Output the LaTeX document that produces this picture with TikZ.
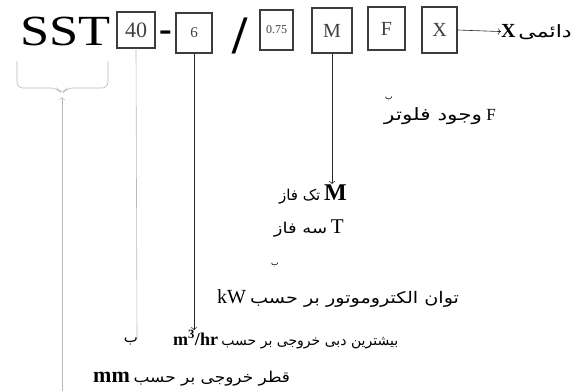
\documentclass[tikz,border=0pt]{standalone}
\usepackage{fontspec}
\usepackage{graphicx}
\setmainfont{Liberation Serif}
\newfontfamily\persianfont[Script=Arabic]{DejaVu Sans}
\TeXXeTstate=1
\usetikzlibrary{positioning, arrows.meta}
\definecolor{boxgray}{RGB}{60,60,60}
\definecolor{faintgray}{RGB}{185,185,185}
\newcommand{\fatext}[2][1]{\scalebox{#1}[1]{\persianfont\beginR #2\endR}}
\newcommand{\fsz}[1]{\fontsize{#1}{#1}\selectfont}

\begin{document}
\begin{tikzpicture}[x=1pt, y=-1pt,
  every node/.style={inner sep=0pt},
  slot/.style={draw=boxgray, line width=1.2pt, text=black!75},
  ann/.style={font=\fsz{15}},
  arrow/.style={->, black!85, semithick},
  faint/.style={faintgray, semithick}]
\useasboundingbox (0,0) rectangle (581,391);

% model code
\node[anchor=base west, font=\fsz{43}] (sst) at (20,45) {\scalebox{1.22}[1]{SST}};
\node[slot, minimum width=38pt, minimum height=36pt, font=\fsz{22}] (d40) at (136,30) {40};
\node[anchor=base, font=\fsz{38}\bfseries] (hyph) at (166,41) {-};
\node[slot, minimum width=36pt, minimum height=40pt, font=\fsz{15}] (d6) at (194,33) {6};
\node[anchor=base, font=\fsz{54}\bfseries] (slash) at (240,53) {/};
\node[slot, minimum width=33pt, minimum height=40pt, font=\fsz{12}] (d075) at (276.5,30) {0.75};
\node[slot, minimum width=40pt, minimum height=45pt, font=\fsz{20}] (dM) at (332,30.5) {M};
\node[slot, minimum width=37pt, minimum height=43pt, font=\fsz{20}] (dF) at (386.5,28.5) {F};
\node[slot, minimum width=35pt, minimum height=46pt, font=\fsz{20}] (dX) at (439.5,30) {X};

% meanings
\node[ann, anchor=base west, font=\fsz{17}] (lblX) at (501,37) {{\fsz{20}\bfseries X}\,\fatext[1.3]{دائمی}};
\draw[arrow] (dX.east) -- (lblX.west);
\node[ann, anchor=base east, font=\fsz{17}] (lblF) at (496,120) {\fatext[1.27]{وجود فلوتر}\ {\fsz{17}F}};
\node[ann, font=\fsz{8}] (dotF) at (389,99) {\fatext{ب}};
\node[ann, anchor=base east] (lblM) at (347,200) {\fatext{تک فاز}\ {\fsz{24}\bfseries M}};
\draw[arrow] (dM.south) -- (dM.south |- lblM.north);
\node[ann, anchor=base east] (lblT) at (344,233) {\fatext[1.2]{سه فاز}\ {\fsz{21}T}};
\node[ann, font=\fsz{8}] (dotkW) at (275,265) {\fatext{ب}};
\node[ann, anchor=base west, font=\fsz{16}] (lblkW) at (217,303) {{\fsz{20}kW}\ \fatext[1.2]{توان الکتروموتور بر حسب}};
\node[ann, anchor=base west, font=\fsz{14}] (lblQ) at (173,345) {{\fsz{18}\bfseries m\textsuperscript{3}/hr}\ \fatext{بیشترین دبی خروجی بر حسب}};
\draw[arrow] (d6.south) -- (d6.south |- lblQ.north);
\node[ann] (strayQ) at (131,341) {\fatext{ب}};
\node[ann, anchor=base west] (lblD) at (93,382) {{\fsz{22}\bfseries mm}\ \fatext[1.13]{قطر خروجی بر حسب}};

% brand brace
\draw[faint, rounded corners=6pt] (17,61) -- (17,88) -- (57,88) -- (62,94) -- (67,88) -- (108,88) -- (108,61);
\coordinate (brtip) at (62,97);
\coordinate (brfoot) at (62,391);
\draw[faint, ->] (brfoot) -- (brtip);
\coordinate (d40foot) at (137,338);
\draw[faint] (d40.south) -- (d40foot);
\end{tikzpicture}
\end{document}
